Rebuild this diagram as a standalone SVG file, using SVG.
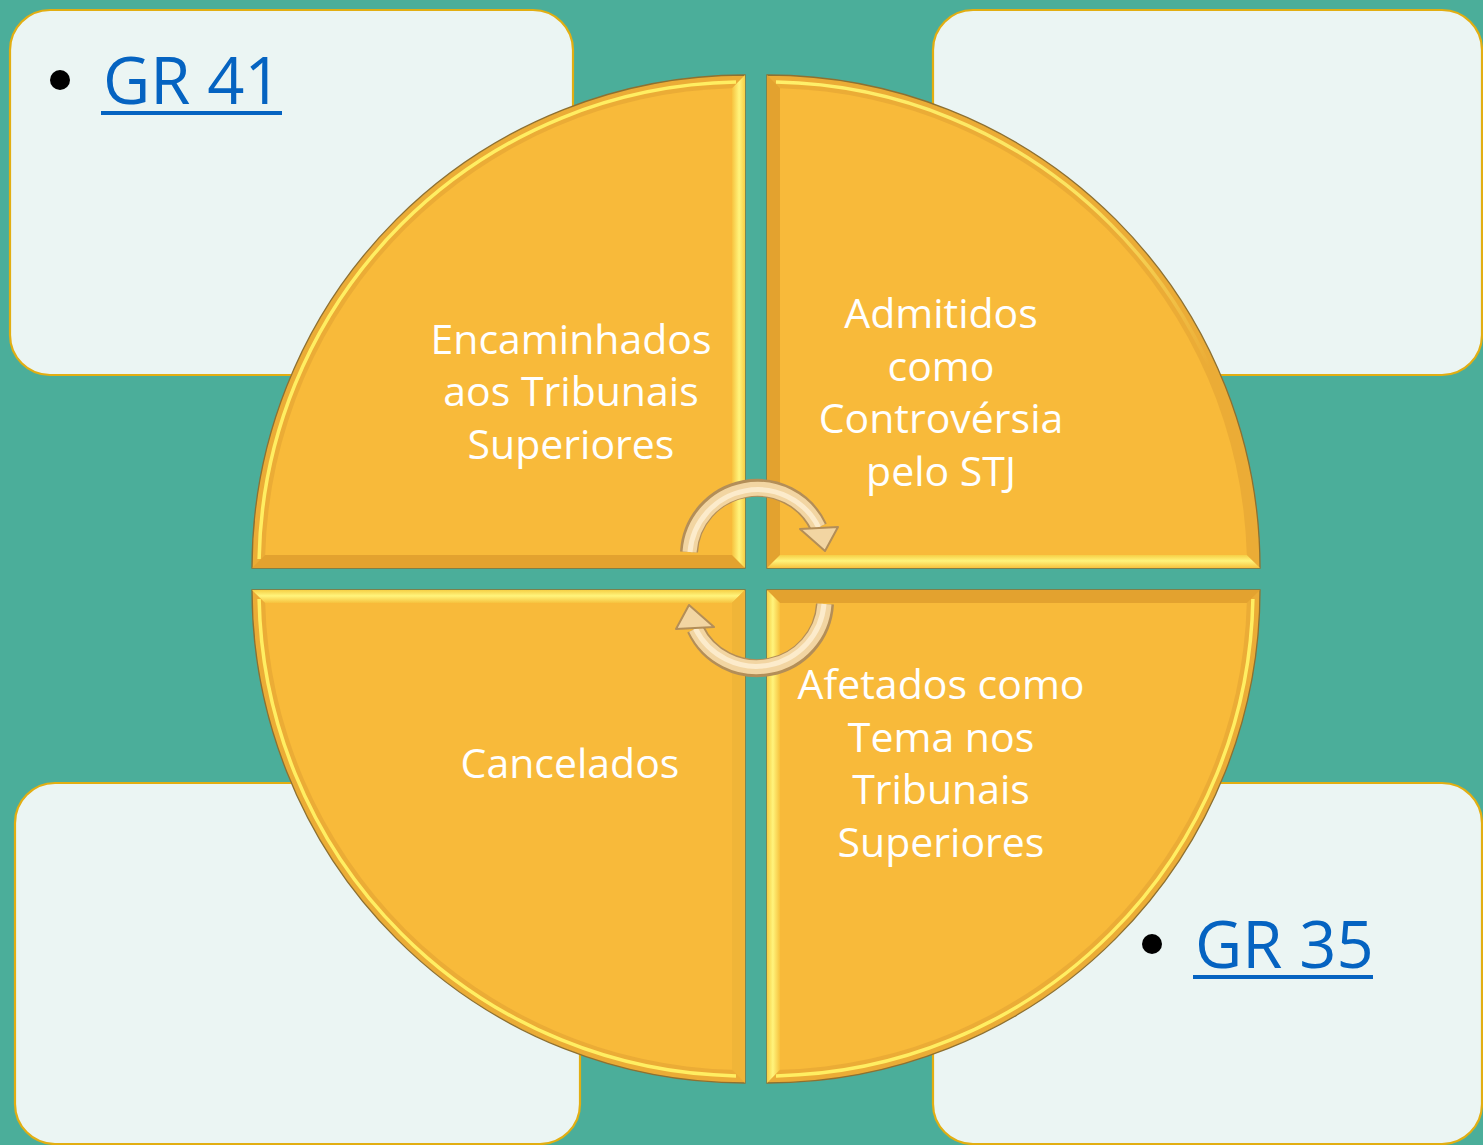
<svg xmlns="http://www.w3.org/2000/svg" width="1483" height="1145" viewBox="0 0 1483 1145">
<defs>
<linearGradient id="bv" x1="0" y1="0" x2="1" y2="0">
<stop offset="0" stop-color="#F7C23E"/>
<stop offset="0.55" stop-color="#FFF47C"/>
<stop offset="1" stop-color="#F6CF45"/>
</linearGradient>
<linearGradient id="bvr" x1="1" y1="0" x2="0" y2="0">
<stop offset="0" stop-color="#F7C23E"/>
<stop offset="0.55" stop-color="#FFF47C"/>
<stop offset="1" stop-color="#F6CF45"/>
</linearGradient>
<linearGradient id="bh" x1="0" y1="0" x2="0" y2="1">
<stop offset="0" stop-color="#F6CF45"/>
<stop offset="0.45" stop-color="#FFF47C"/>
<stop offset="1" stop-color="#F7C23E"/>
</linearGradient>
<linearGradient id="bhu" x1="0" y1="1" x2="0" y2="0">
<stop offset="0" stop-color="#F7C23E"/>
<stop offset="0.55" stop-color="#FFF47C"/>
<stop offset="1" stop-color="#F6CF45"/>
</linearGradient>
<linearGradient id="trh" gradientUnits="userSpaceOnUse" x1="780" y1="80" x2="1255" y2="560">
<stop offset="0" stop-color="#FFF06A" stop-opacity="1"/>
<stop offset="0.45" stop-color="#FFF06A" stop-opacity="0.8"/>
<stop offset="0.75" stop-color="#FFF06A" stop-opacity="0"/>
</linearGradient>
</defs>
<style>
.box{fill:#EBF5F3;stroke:#E2AE12;stroke-width:2.2}
.qo{fill:#EBAC36;stroke:#8E7030;stroke-width:1.3}
.qh{fill:none;stroke:#FFEE62;stroke-width:3.5}
.dk{fill:#E3A22F}
.qi{fill:#F8BA3A}
.qt{font-family:"Open Sans","Noto Sans",sans-serif;font-size:41px;fill:#FFFFFF;text-anchor:middle}
.lk{font-family:"Open Sans","Noto Sans",sans-serif;font-size:65px;fill:#0563C1}
.ul{fill:#0563C1}
.sh1{fill:none;stroke:#B38E58;stroke-width:18;stroke-linecap:butt}
.sh2{fill:none;stroke:#F2D5A2;stroke-width:14;stroke-linecap:butt}
.sh3{fill:none;stroke:#FCEBCB;stroke-width:5;stroke-linecap:butt}
.hd{fill:#F2D5A2;stroke:#B38E58;stroke-width:2;stroke-linejoin:round}
</style>
<rect x="0" y="0" width="1483" height="1145" fill="#4BAE9A"/>

<g id="box-top-left">
<rect class="box" x="10" y="10" width="563" height="365" rx="40"/>
<circle cx="60" cy="80" r="10" fill="#000"/>
<text class="lk" x="103" y="104">GR 41</text>
<rect class="ul" x="101" y="111" width="181" height="4"/>
</g>
<g id="box-top-right">
<rect class="box" x="933" y="10" width="549" height="365" rx="40"/>
</g>
<g id="box-bottom-left">
<rect class="box" x="15" y="783" width="565" height="361" rx="40"/>
</g>
<g id="box-bottom-right">
<rect class="box" x="933" y="783" width="549" height="361" rx="40"/>
<circle cx="1152" cy="944" r="10" fill="#000"/>
<text class="lk" x="1195" y="968">GR 35</text>
<rect class="ul" x="1193" y="975" width="180" height="4"/>
</g>

<g id="q-top-left">
<path class="qo" d="M745,568 L252,568 A493,493 0 0 1 745,75 Z"/>
<polygon class="dk" points="265.2,555 732,555 745,568 252,568"/>
<polygon fill="url(#bv)" points="732,88.2 745,75 745,568 732,555"/>
<path class="qh" d="M259.1,559 A486,486 0 0 1 736,82.1"/>
<path class="qi" d="M732,555 L265.2,555 A480,480 0 0 1 732,88.2 Z"/>
<text class="qt" x="571" y="354">Encaminhados</text>
<text class="qt" x="571" y="406">aos Tribunais</text>
<text class="qt" x="571" y="459">Superiores</text>
</g>
<g id="q-top-right">
<path class="qo" d="M767,568 L767,75 A493,493 0 0 1 1260,568 Z"/>
<polygon class="dk" points="767,75 780,88.2 780,555 767,568"/>
<polygon fill="url(#bh)" points="780,555 1246.8,555 1260,568 767,568"/>
<path fill="none" stroke="url(#trh)" stroke-width="3.5" d="M776,82.1 A486,486 0 0 1 1252.9,559"/>
<path class="qi" d="M780,555 L780,88.2 A480,480 0 0 1 1246.8,555 Z"/>
<text class="qt" x="941" y="328">Admitidos</text>
<text class="qt" x="941" y="381">como</text>
<text class="qt" x="941" y="433">Controvérsia</text>
<text class="qt" x="941" y="486">pelo STJ</text>
</g>
<g id="q-bottom-left">
<path class="qo" d="M745,590 L745,1083 A493,493 0 0 1 252,590 Z"/>
<polygon fill="url(#bhu)" points="252,590 745,590 732,603 265.2,603"/>
<polygon fill="#F0B538" points="732,603 745,590 745,1083 732,1069.8"/>
<path class="qh" d="M736,1075.9 A486,486 0 0 1 259.1,599"/>
<path class="qi" d="M732,603 L732,1069.8 A480,480 0 0 1 265.2,603 Z"/>
<text class="qt" x="570" y="778">Cancelados</text>
</g>
<g id="q-bottom-right">
<path class="qo" d="M767,590 L1260,590 A493,493 0 0 1 767,1083 Z"/>
<polygon class="dk" points="767,590 1260,590 1246.8,603 780,603"/>
<polygon fill="url(#bvr)" points="767,590 780,603 780,1069.8 767,1083"/>
<path class="qh" d="M1252.9,599 A486,486 0 0 1 776,1075.9"/>
<path class="qi" d="M780,603 L1246.8,603 A480,480 0 0 1 780,1069.8 Z"/>
<text class="qt" x="941" y="699">Afetados como</text>
<text class="qt" x="941" y="752">Tema nos</text>
<text class="qt" x="941" y="804">Tribunais</text>
<text class="qt" x="941" y="857">Superiores</text>
</g>

<g id="connectors">
<g id="arrow-top">
<path class="sh1" d="M689,552 A68,68 0 0 1 818.6,527.3"/>
<path class="sh2" d="M689.5,552 A68,68 0 0 1 818.6,527.3"/>
<path class="sh3" d="M690,552 A68,68 0 0 1 818.6,527.3"/>
<polygon class="hd" points="800,529 838,527 825,551"/>
</g>
<g id="arrow-bottom" transform="rotate(180 757 578)">
<path class="sh1" d="M689,552 A68,68 0 0 1 818.6,527.3"/>
<path class="sh2" d="M689.5,552 A68,68 0 0 1 818.6,527.3"/>
<path class="sh3" d="M690,552 A68,68 0 0 1 818.6,527.3"/>
<polygon class="hd" points="800,529 838,527 825,551"/>
</g>
</g>
</svg>
